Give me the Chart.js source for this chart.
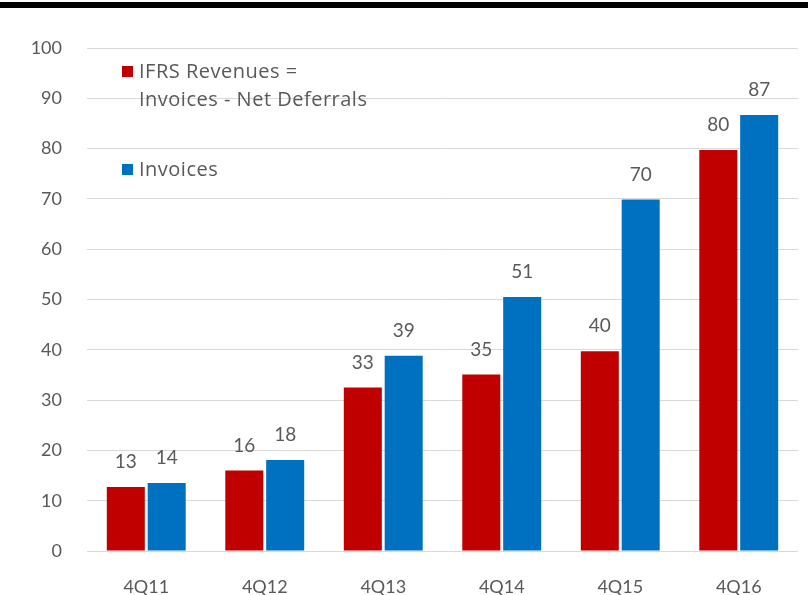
<!DOCTYPE html>
<html>
<head>
<meta charset="utf-8">
<script src="https://cdn.jsdelivr.net/npm/chart.js@4"></script>
<style>
  body { margin: 0; background: #fff; }
  .topbar { position: absolute; left: 0; top: 2px; width: 808px; height: 6px; background: #000; }
  .wrap { position: relative; width: 808px; height: 595px; }
</style>
</head>
<body>
<div class="wrap">
  <div class="topbar"></div>
  <canvas id="chart" width="808" height="595"></canvas>
</div>
<script>
const quarters = ['4Q11', '4Q12', '4Q13', '4Q14', '4Q15', '4Q16'];
const ifrsRevenues = [12.7, 16.0, 32.5, 35.1, 39.7, 79.7];
const invoices = [13.5, 18.1, 38.8, 50.5, 69.9, 86.7];
const legendLines = [['IFRS Revenues =', 'Invoices - Net Deferrals'], ['Invoices']];

const textColor = '#595959';
const fontFamily = 'Lato, "Open Sans", sans-serif';
const legendFont = '"Open Sans", sans-serif';
const colors = ['#C00000', '#0070C0'];

// value labels above each bar
const valueLabels = {
    id: 'valueLabels',
    afterDatasetsDraw(chart) {
        const ctx = chart.ctx;
        ctx.save();
        ctx.font = '19px ' + fontFamily;
        ctx.fillStyle = textColor;
        ctx.textAlign = 'center';
        ctx.textBaseline = 'middle';
        chart.data.datasets.forEach((ds, i) => {
            chart.getDatasetMeta(i).data.forEach((bar, j) => {
                ctx.fillText(Math.round(ds.data[j]), bar.x, bar.y - 25);
            });
        });
        ctx.restore();
    }
};

// legend drawn inside the plot, like the original
const innerLegend = {
    id: 'innerLegend',
    afterDatasetsDraw(chart) {
        const ctx = chart.ctx;
        ctx.save();
        ctx.font = '20px ' + legendFont;
        ctx.letterSpacing = '0.5px';
        ctx.textBaseline = 'middle';
        const rows = [72, 170];
        chart.data.datasets.forEach((ds, i) => {
            const y = rows[i];
            ctx.fillStyle = ds.backgroundColor;
            ctx.fillRect(122, y - 6, 11, 11);
            ctx.fillStyle = textColor;
            legendLines[i].forEach((line, k) => {
                ctx.fillText(line, 139, y + k * 28);
            });
        });
        ctx.restore();
    }
};

new Chart(document.getElementById('chart'), {
    type: 'bar',
    data: {
        labels: quarters,
        datasets: [
            { label: 'IFRS Revenues = Invoices - Net Deferrals', data: ifrsRevenues, backgroundColor: colors[0] },
            { label: 'Invoices', data: invoices, backgroundColor: colors[1] }
        ]
    },
    options: {
        responsive: false,
        animation: false,
        layout: { padding: { top: 48, right: 10, bottom: 0, left: 0 } },
        datasets: { bar: { categoryPercentage: 0.69, barPercentage: 0.93 } },
        plugins: {
            legend: { display: false },
            tooltip: { enabled: false }
        },
        scales: {
            x: {
                grid: { display: false },
                border: { display: false },
                ticks: { color: textColor, font: { family: fontFamily, size: 18 }, padding: 17 },
                afterFit(scale) { scale.height = 44; }
            },
            y: {
                min: 0,
                max: 100,
                ticks: { stepSize: 10, color: textColor, font: { family: fontFamily, size: 18 }, padding: 25 },
                grid: { color: '#d9d9d9', lineWidth: 1, drawTicks: false },
                border: { display: false },
                afterFit(scale) { scale.width = 87; }
            }
        }
    },
    plugins: [valueLabels, innerLegend]
});
</script>
</body>
</html>
